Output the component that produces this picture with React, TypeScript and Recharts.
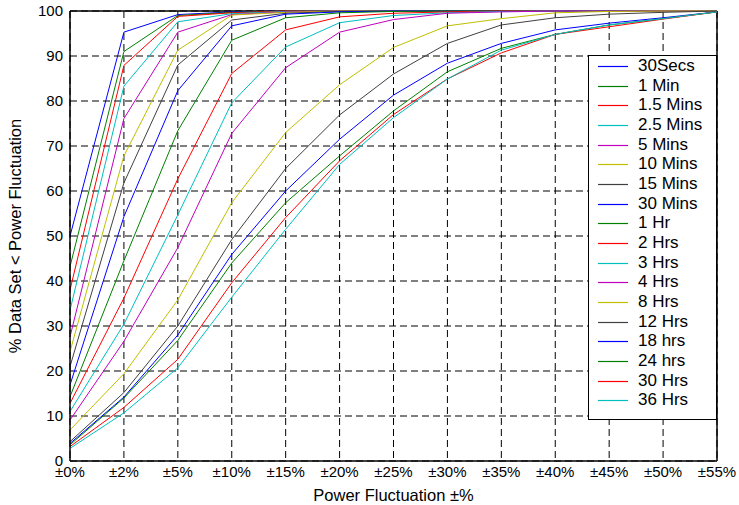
import { LineChart, Line, XAxis, YAxis, CartesianGrid, ReferenceLine, Legend } from "recharts";

const categories = ["±0%", "±2%", "±5%", "±10%", "±15%", "±20%", "±25%", "±30%", "±35%", "±40%", "±45%", "±50%", "±55%"];

const seriesNames = [
  "30Secs", "1 Min", "1.5 Mins", "2.5 Mins", "5 Mins", "10 Mins", "15 Mins", "30 Mins", "1 Hr",
  "2 Hrs", "3 Hrs", "4 Hrs", "8 Hrs", "12 Hrs", "18 hrs", "24 hrs", "30 Hrs", "36 Hrs",
];

// matlab-ish colour order, repeats every 7
const palette = ["#0000ff", "#008000", "#ff0000", "#00bfbf", "#bf00bf", "#bfbf00", "#404040"];

const s30sec = [50, 95.3, 99.2, 99.8, 100, 100, 100, 100, 100, 100, 100, 100, 100];
const s1min = [43.2, 91, 99, 99.7, 100, 100, 100, 100, 100, 100, 100, 100, 100];
const s15min = [38, 87.9, 98.8, 99.6, 100, 100, 100, 100, 100, 100, 100, 100, 100];
const s25min = [33.5, 83.3, 97.6, 99.4, 99.9, 100, 100, 100, 100, 100, 100, 100, 100];
const s5min = [27.6, 76.1, 95.3, 99.2, 99.8, 100, 100, 100, 100, 100, 100, 100, 100];
const s10min = [24.3, 67.8, 91.3, 99.1, 99.7, 100, 100, 100, 100, 100, 100, 100, 100];
const s15mins = [21, 61.8, 88, 98, 99.5, 99.9, 100, 100, 100, 100, 100, 100, 100];
const s30min = [16.9, 54.3, 82.3, 96.7, 99.3, 99.8, 100, 100, 100, 100, 100, 100, 100];
const s1hr = [14.3, 44.5, 73.4, 93.5, 98.5, 99.6, 99.9, 100, 100, 100, 100, 100, 100];
const s2hr = [12.8, 36.2, 62.7, 86.1, 95.8, 98.7, 99.5, 99.8, 100, 100, 100, 100, 100];
const s3hr = [11, 30.4, 54.7, 79.6, 92, 97.4, 99, 99.6, 99.9, 100, 100, 100, 100];
const s4hr = [9.1, 26.6, 47.4, 72.8, 87.4, 95.3, 98.1, 99.5, 99.8, 100, 100, 100, 100];
const s8hr = [6.9, 19.4, 35.8, 57.4, 73, 83.6, 91.9, 96.7, 98.3, 99.6, 99.9, 100, 100];
const s12hr = [4.3, 15.2, 30, 49.2, 65, 76.9, 86, 92.8, 96.9, 98.5, 99.3, 99.7, 100];
const s18hr = [3.9, 14.2, 28, 45.9, 60, 71.5, 81.3, 88.4, 92.8, 95.8, 97.3, 98.5, 99.8];
const s24hr = [3.6, 14, 26.8, 44, 57.4, 67.8, 77.8, 86.5, 91.7, 94.8, 96.9, 98.3, 99.8];
const s30hr = [3.2, 11.9, 22.6, 39.6, 54.1, 66.7, 77, 84.9, 90.7, 94.8, 96.5, 98.2, 99.8];
const s36hr = [2.8, 10.7, 20.7, 36.4, 51.5, 65.9, 76.3, 84.9, 91.3, 94.8, 96.9, 98.3, 99.8];

const seriesValues = [
  s30sec, s1min, s15min, s25min, s5min, s10min, s15mins, s30min, s1hr,
  s2hr, s3hr, s4hr, s8hr, s12hr, s18hr, s24hr, s30hr, s36hr,
];

const yTicks = [0, 10, 20, 30, 40, 50, 60, 70, 80, 90, 100];

const data = categories.map((cat, i) => {
  const row: Record<string, string | number> = { x: cat };
  seriesValues.forEach((vals, k) => {
    row["s" + k] = vals[i];
  });
  return row;
});

const FONT = "'Liberation Sans', Arial, Helvetica, sans-serif";

function LegendBox() {
  return (
    <div
      style={{
        position: "relative",
        width: 127,
        height: 363,
        border: "1px solid #000",
        background: "#fff",
        fontFamily: FONT,
        fontSize: 17,
        color: "#000",
      }}
    >
      {seriesNames.map((name, i) => {
        const cy = Math.round(10 + i * 19.67);
        return (
          <div key={name}>
            <svg width={30} height={3} style={{ position: "absolute", left: 9, top: cy - 1 }}>
              <line x1={0} x2={30} y1={1.5} y2={1.5} stroke={palette[i % 7]} strokeWidth={1.2} />
            </svg>
            <span style={{ position: "absolute", left: 49, top: cy - 10, lineHeight: "20px", whiteSpace: "nowrap" }}>
              {name}
            </span>
          </div>
        );
      })}
    </div>
  );
}

export default function App() {
  return (
    <div style={{ position: "absolute", left: 0, top: 0, width: 739, height: 505, background: "#fff", fontFamily: FONT }}>
      <LineChart width={739} height={505} data={data} margin={{ top: 11, right: 22, bottom: 0, left: 0 }}>
        <CartesianGrid stroke="#000" strokeDasharray="7 4" strokeWidth={1} />
        <XAxis
          dataKey="x"
          interval={0}
          height={44}
          tickSize={0}
          tickMargin={5}
          axisLine={{ stroke: "#000", strokeWidth: 1.5 }}
          tick={{ fill: "#000", fontSize: 15, fontFamily: FONT }}
          label={{ value: "Power Fluctuation ±%", position: "insideBottom", offset: 4, fill: "#000", fontSize: 16.5, fontFamily: FONT }}
        />
        <YAxis
          type="number"
          domain={[0, 100]}
          ticks={yTicks}
          interval={0}
          width={70}
          tickSize={0}
          tickMargin={7}
          axisLine={{ stroke: "#000", strokeWidth: 1.5 }}
          tick={{ fill: "#000", fontSize: 15, fontFamily: FONT }}
          label={{
            value: "% Data Set < Power Fluctuation",
            angle: -90,
            position: "insideLeft",
            offset: 15,
            fill: "#000",
            fontSize: 16.5,
            fontFamily: FONT,
            style: { textAnchor: "middle" },
          }}
        />
        <ReferenceLine y={100} stroke="#000" strokeWidth={1.5} />
        <ReferenceLine x="±55%" stroke="#000" strokeWidth={1.5} />
        {seriesNames.map((name, k) => (
          <Line
            key={name}
            type="linear"
            dataKey={"s" + k}
            name={name}
            stroke={palette[k % 7]}
            strokeWidth={1}
            dot={false}
            isAnimationActive={false}
          />
        ))}
        <Legend
          layout="vertical"
          align="center"
          verticalAlign="middle"
          wrapperStyle={{ left: 588, top: 55, width: 129, height: 365 }}
          content={() => <LegendBox />}
        />
      </LineChart>
    </div>
  );
}
